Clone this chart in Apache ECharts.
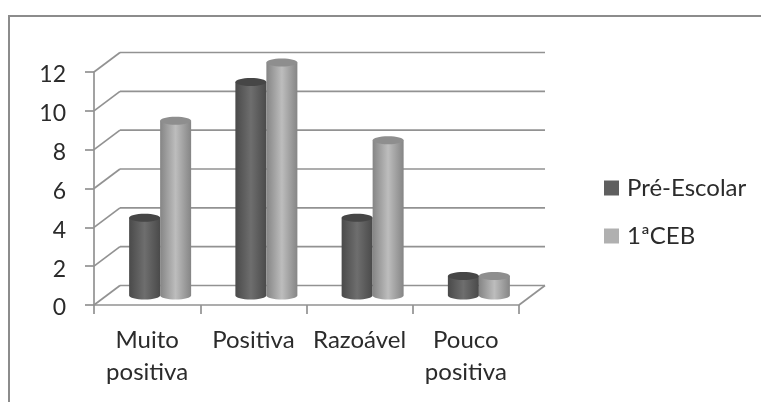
<!DOCTYPE html>
<html><head><meta charset="utf-8">
<style>html,body{margin:0;padding:0;background:#fff}#c{width:761px;height:402px;position:relative}#frame{position:absolute;left:8px;top:15px;width:900px;height:500px;border:2px solid #8c8c8c;box-sizing:border-box}body{overflow:hidden}</style>
<script src="https://cdn.jsdelivr.net/npm/echarts@6/dist/echarts.min.js"></script>
</head><body><div id="c"></div>
<script>
const categories = ['Muito\npositiva', 'Positiva', 'Razoável', 'Pouco\npositiva'];
const preEscolar = [4, 11, 4, 1];
const primeiroCeb = [9, 12, 8, 1];
const yTicks = [0, 2, 4, 6, 8, 10, 12];

// Oblique depth of the 3D box, and of the plane the cylinders stand on
const DEPTH = [26, -19.5];
const BAR_SHIFT = [13, -9.5];
const BAR_W = 31;
const RY = 4;
const LINE = '#929292';
const FONT = 'Lato, "Open Sans", sans-serif';

const chart = echarts.init(document.getElementById('c'), null, {renderer: 'canvas'});

function seg(x1, y1, x2, y2) {
  return {type: 'line', shape: {x1, y1, x2, y2}, style: {stroke: LINE, lineWidth: 1.7}};
}

// Side-wall diagonals, back-wall gridlines and the floor edge
function renderBox(params, api) {
  const v = api.value(0);
  const p = api.coord([0, v]);
  const left = params.coordSys.x;
  const right = left + params.coordSys.width;
  const y = p[1];
  const kids = [
    seg(left, y, left + DEPTH[0], y + DEPTH[1]),
    seg(left + DEPTH[0], y + DEPTH[1], right + DEPTH[0], y + DEPTH[1])
  ];
  if (v === 0) kids.push(seg(right, y, right + DEPTH[0], y + DEPTH[1]));
  return {type: 'group', children: kids};
}

function cylinder(side, body, cap) {
  return function (params, api) {
    const c = api.coord([api.value(0), api.value(1)]);
    const b = api.coord([api.value(0), 0]);
    const x0 = c[0] + BAR_SHIFT[0] + (side < 0 ? -BAR_W : 0);
    const top = c[1] + BAR_SHIFT[1];
    const bot = b[1] + BAR_SHIFT[1];
    const rx = BAR_W / 2;
    const cx = x0 + rx;
    const k = 0.5523;
    const path = [
      'M', x0, top, 'L', x0, bot,
      'C', x0, bot + RY * k, cx - rx * k, bot + RY, cx, bot + RY,
      'C', cx + rx * k, bot + RY, x0 + BAR_W, bot + RY * k, x0 + BAR_W, bot,
      'L', x0 + BAR_W, top, 'Z'
    ].join(' ');
    return {
      type: 'group',
      children: [
        {type: 'path', shape: {pathData: path, x: x0, y: top, width: BAR_W, height: bot + RY - top},
          style: {fill: new echarts.graphic.LinearGradient(0, 0, 1, 0, [
            {offset: 0, color: body[0]}, {offset: 0.5, color: body[1]}, {offset: 1, color: body[0]}
          ])}},
        {type: 'ellipse', shape: {cx, cy: top, rx, ry: RY}, style: {fill: cap}}
      ]
    };
  };
}

chart.setOption({
  animation: false,
  grid: {left: 94, top: 72, width: 425, height: 233},
  legend: {
    show: true, left: 604, top: 176, padding: 0, orient: 'vertical', itemWidth: 15, itemHeight: 15, itemGap: 24,
    textStyle: {fontFamily: FONT, fontSize: 24, color: '#2b2b2b', padding: [0, 0, 0, 3]},
    data: [
      {name: 'Pré-Escolar', icon: 'rect', itemStyle: {color: '#5f5f5f'}},
      {name: '1ªCEB', icon: 'rect', itemStyle: {color: '#b0b0b0'}}
    ]
  },
  xAxis: {
    type: 'category', data: categories,
    axisLine: {lineStyle: {color: LINE, width: 1.7}},
    axisTick: {show: true, length: 9, lineStyle: {color: LINE, width: 1.7}},
    axisLabel: {fontFamily: FONT, fontSize: 24, color: '#2b2b2b', lineHeight: 32, margin: 19, interval: 0}
  },
  yAxis: {
    type: 'value', min: 0, max: 12, interval: 2,
    axisLine: {show: true, lineStyle: {color: LINE, width: 1.7}},
    axisTick: {show: true, length: 9, lineStyle: {color: LINE, width: 1.7}},
    axisLabel: {fontFamily: FONT, fontSize: 23, color: '#2b2b2b', margin: 28, verticalAlign: 'top', lineHeight: 6},
    splitLine: {show: false}
  },
  series: [
    {type: 'custom', name: 'box', coordinateSystem: 'cartesian2d', silent: true, z: 1,
      encode: {x: 1, y: 0}, data: yTicks.map(t => [t, 0]), renderItem: renderBox},
    {type: 'custom', name: 'Pré-Escolar', z: 3, itemStyle: {color: '#5f5f5f'},
      data: preEscolar.map((v, i) => [i, v]),
      renderItem: cylinder(-1, ['#4a4a4a', '#6e6e6e'], '#464646')},
    {type: 'custom', name: '1ªCEB', z: 4, itemStyle: {color: '#b0b0b0'},
      data: primeiroCeb.map((v, i) => [i, v]),
      renderItem: cylinder(1, ['#858585', '#bdbdbd'], '#8e8e8e')}
  ]
});
</script>
<div id="frame"></div>
</body></html>
